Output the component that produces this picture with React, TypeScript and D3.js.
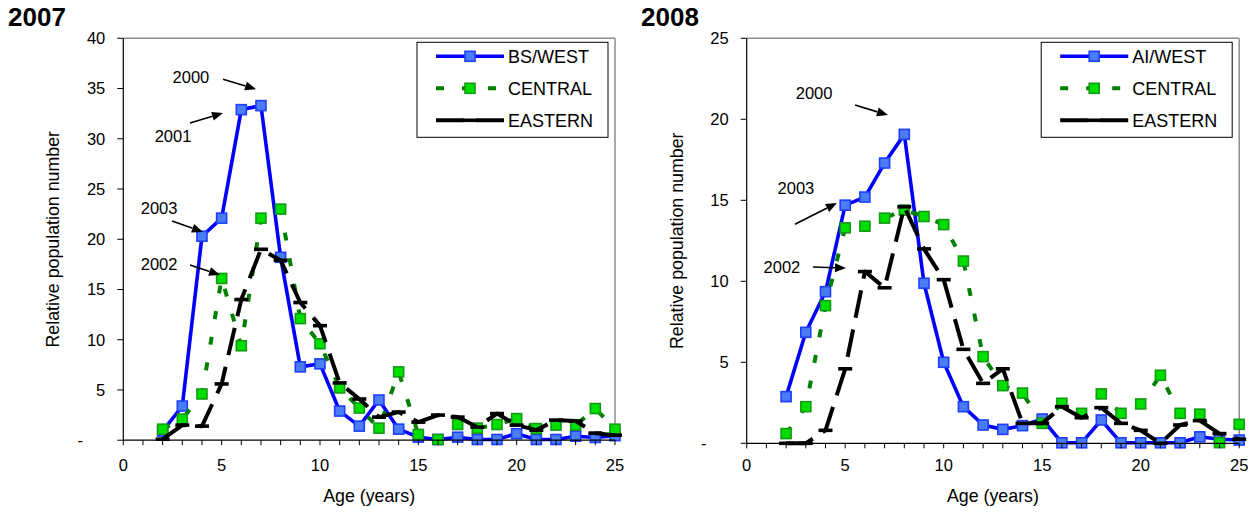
import React from "react";
import * as d3 from "d3";

// ---------- DATA ----------
const ages = [2, 3, 4, 5, 6, 7, 8, 9, 10, 11, 12, 13, 14, 15, 16, 17, 18, 19, 20, 21, 22, 23, 24, 25];

const west2007 = [0.9, 3.4, 20.3, 22.1, 32.9, 33.3, 18.2, 7.3, 7.6, 2.9, 1.4, 4.0, 1.1, 0.3, 0.07, 0.3, 0.07, 0.07, 0.65, 0.07, 0.07, 0.4, 0.27, 0.45];
const central2007 = [1.1, 2.1, 4.6, 16.1, 9.4, 22.1, 23.0, 12.1, 9.6, 5.2, 3.2, 1.2, 6.8, 0.57, 0.07, 1.56, 1.2, 1.56, 2.15, 1.16, 1.5, 1.5, 3.15, 1.1];
const eastern2007 = [0.1, 1.5, 1.4, 5.6, 14.0, 19.0, 17.9, 13.7, 11.4, 5.7, 4.1, 2.3, 2.8, 1.8, 2.5, 2.3, 1.3, 2.65, 1.5, 1.0, 2.0, 1.9, 0.7, 0.5];

const west2008 = [2.88, 6.85, 9.36, 14.7, 15.2, 17.3, 19.07, 9.88, 5.0, 2.26, 1.13, 0.86, 1.09, 1.5, 0.03, 0.03, 1.44, 0.03, 0.03, 0.03, 0.03, 0.4, 0.25, 0.2];
const central2008 = [0.6, 2.26, 8.5, 13.3, 13.4, 13.9, 14.4, 14.0, 13.5, 11.25, 5.35, 3.56, 3.1, 1.23, 2.47, 1.85, 3.05, 1.85, 2.43, 4.2, 1.85, 1.8, 0.04, 1.17];
const eastern2008 = [0, 0, 0.8, 4.6, 10.6, 9.6, 14.6, 12.0, 10.1, 5.8, 3.7, 4.6, 1.23, 1.23, 2.26, 1.58, 2.2, 1.23, 0.8, 0, 1.13, 1.4, 0.6, 0.25];

const seriesNames2007 = ["BS/WEST", "CENTRAL", "EASTERN"];
const seriesNames2008 = ["AI/WEST", "CENTRAL", "EASTERN"];

const xTicks = [0, 1, 2, 3, 4, 5, 6, 7, 8, 9, 10, 11, 12, 13, 14, 15, 16, 17, 18, 19, 20, 21, 22, 23, 24, 25];
const xTickLabels = [0, 5, 10, 15, 20, 25];
const yTicks2007 = [0, 5, 10, 15, 20, 25, 30, 35, 40];
const yTicks2008 = [0, 5, 10, 15, 20, 25];

// annotations: label, text anchor (age, value), arrow from -> to (age, value)
const notes2007 = [
  { label: "2000", tx: 3.44, ty: 36.1, x1: 5.07, y1: 35.93, x2: 6.75, y2: 34.94 },
  { label: "2001", tx: 2.53, ty: 30.27, x1: 3.39, y1: 31.57, x2: 5.07, y2: 32.56 },
  { label: "2003", tx: 1.82, ty: 23.1, x1: 2.48, y1: 21.81, x2: 4.05, y2: 20.72 },
  { label: "2002", tx: 1.82, ty: 17.5, x1: 3.39, y1: 17.43, x2: 4.92, y2: 16.44 },
];
const notes2008 = [
  { label: "2000", tx: 3.42, ty: 21.62, x1: 5.5, y1: 20.88, x2: 7.17, y2: 20.26 },
  { label: "2003", tx: 2.5, ty: 15.76, x1: 2.45, y1: 13.52, x2: 4.58, y2: 14.83 },
  { label: "2002", tx: 1.79, ty: 10.88, x1: 3.37, y1: 10.88, x2: 5.04, y2: 10.82 },
];

// ---------- STYLE ----------
const FONT = "'Liberation Sans', Arial, Helvetica, sans-serif";
const styles = [
  { stroke: "#0000ff", dash: "none", width: 3.6, marker: "square", fill: "#4a7cf4", mstroke: "#1f3fff" },
  { stroke: "#008000", dash: "8,18", width: 4, marker: "square", fill: "#00e000", mstroke: "#169a16" },
  { stroke: "#000000", dash: "28,12", width: 4, marker: "dash", fill: "#000", mstroke: "#000" },
];

type Note = { label: string; tx: number; ty: number; x1: number; y1: number; x2: number; y2: number };

function Panel(props: {
  title: string;
  titleX: number;
  left: number;
  right: number;
  top: number;
  bottom: number;
  yMax: number;
  yTicks: number[];
  series: number[][];
  names: string[];
  notes: Note[];
  id: string;
}) {
  const { left, right, top, bottom } = props;
  const x = d3.scaleLinear().domain([0, 25]).range([left, right]);
  const y = d3.scaleLinear().domain([0, props.yMax]).range([bottom, top]);
  const line = d3
    .line<number>()
    .x((_, i) => x(ages[i]))
    .y((d) => y(d));

  const legW = 191;
  const legH = 95;
  const legX = right - 7 - legW;
  const legY = top + 4;
  const midY = (top + bottom) / 2;

  const marker = (s: any, cx: number, cy: number, key: string) =>
    s.marker === "square" ? (
      <rect key={key} x={cx - 5} y={cy - 5} width={10} height={10} fill={s.fill} stroke={s.mstroke} strokeWidth={1.6} />
    ) : (
      <line key={key} x1={cx - 7} x2={cx + 7} y1={cy} y2={cy} stroke="#000" strokeWidth={3.6} />
    );

  return (
    <g fontFamily={FONT}>
      <text x={props.titleX} y={26} fontSize={26} fontWeight="bold" fill="#000">
        {props.title}
      </text>
      {/* frame */}
      <line x1={left} x2={right} y1={top} y2={top} stroke="#8c8c8c" strokeWidth={1.5} />
      <line x1={right} x2={right} y1={top} y2={bottom} stroke="#8c8c8c" strokeWidth={1.5} />
      {/* series */}
      {props.series.map((vals, si) => {
        const s = styles[si];
        return (
          <g key={si}>
            <path d={line(vals) || ""} fill="none" stroke={s.stroke} strokeWidth={s.width} strokeDasharray={s.dash} strokeLinejoin="round" />
            {vals.map((v, i) => marker(s, x(ages[i]), y(v), `${si}-${i}`))}
          </g>
        );
      })}
      {/* axes */}
      <line x1={left} x2={left} y1={top} y2={bottom} stroke="#000" strokeWidth={1.2} />
      <line x1={left} x2={right} y1={bottom} y2={bottom} stroke="#000" strokeWidth={1.2} />
      {props.yTicks.map((t) => (
        <g key={`y${t}`}>
          <line x1={left - 6} x2={left} y1={y(t)} y2={y(t)} stroke="#000" strokeWidth={1} />
          <text
            x={t === 0 ? left - 43 : left - 18}
            y={y(t)}
            dy="0.36em"
            fontSize={16.5}
            textAnchor={t === 0 ? "middle" : "end"}
            fill="#000"
          >
            {t === 0 ? "-" : t}
          </text>
        </g>
      ))}
      {xTicks.map((t) => (
        <line key={`x${t}`} x1={x(t)} x2={x(t)} y1={bottom} y2={bottom + 5} stroke="#000" strokeWidth={1} />
      ))}
      {xTickLabels.map((t) => (
        <text key={`xl${t}`} x={x(t)} y={471} fontSize={16.5} textAnchor="middle" fill="#000">
          {t}
        </text>
      ))}
      <text x={(left + right) / 2} y={502} fontSize={17.8} textAnchor="middle" fill="#000">
        Age (years)
      </text>
      <text
        transform={`translate(${left - 64},${midY}) rotate(-90)`}
        fontSize={17.8}
        textAnchor="middle"
        fill="#000"
      >
        Relative population number
      </text>
      {/* annotations */}
      {props.notes.map((n) => {
        const ax1 = x(n.x1), ay1 = y(n.y1), ax2 = x(n.x2), ay2 = y(n.y2);
        const ang = Math.atan2(ay2 - ay1, ax2 - ax1);
        const L = 11, W = 4.5;
        const bx = ax2 - L * Math.cos(ang), by = ay2 - L * Math.sin(ang);
        const px = -Math.sin(ang) * W, py = Math.cos(ang) * W;
        return (
          <g key={n.label}>
            <text x={x(n.tx)} y={y(n.ty)} dy="0.36em" fontSize={16.5} textAnchor="middle" fill="#000">
              {n.label}
            </text>
            <line x1={ax1} y1={ay1} x2={bx} y2={by} stroke="#000" strokeWidth={1.6} />
            <polygon points={`${ax2},${ay2} ${bx + px},${by + py} ${bx - px},${by - py}`} fill="#000" />
          </g>
        );
      })}
      {/* legend */}
      <rect x={legX} y={legY} width={legW} height={legH} fill="#fff" stroke="#000" strokeWidth={1} />
      {props.names.map((name, i) => {
        const s = styles[i];
        const ry = legY + 14 + i * 32;
        return (
          <g key={name}>
            <line x1={legX + 19} x2={legX + 87} y1={ry} y2={ry} stroke={s.stroke} strokeWidth={s.width} strokeDasharray={s.dash} />
            {marker(s, legX + 53, ry, `lg${i}`)}
            <text x={legX + 91} y={ry} dy="0.36em" fontSize={18} fill="#000">
              {name}
            </text>
          </g>
        );
      })}
    </g>
  );
}

export default function App() {
  return (
    <svg
      width={1259}
      height={514}
      style={{ position: "absolute", left: 0, top: 0, background: "#fff" }}
      xmlns="http://www.w3.org/2000/svg"
    >
      <rect width={1259} height={514} fill="#fff" />
      <Panel
        id="a"
        title="2007"
        titleX={8}
        left={123.3}
        right={615}
        top={38.3}
        bottom={440.2}
        yMax={40}
        yTicks={yTicks2007}
        series={[west2007, central2007, eastern2007]}
        names={seriesNames2007}
        notes={notes2007}
      />
      <Panel
        id="b"
        title="2008"
        titleX={641}
        left={746.7}
        right={1239.2}
        top={38.3}
        bottom={443.3}
        yMax={25}
        yTicks={yTicks2008}
        series={[west2008, central2008, eastern2008]}
        names={seriesNames2008}
        notes={notes2008}
      />
    </svg>
  );
}
